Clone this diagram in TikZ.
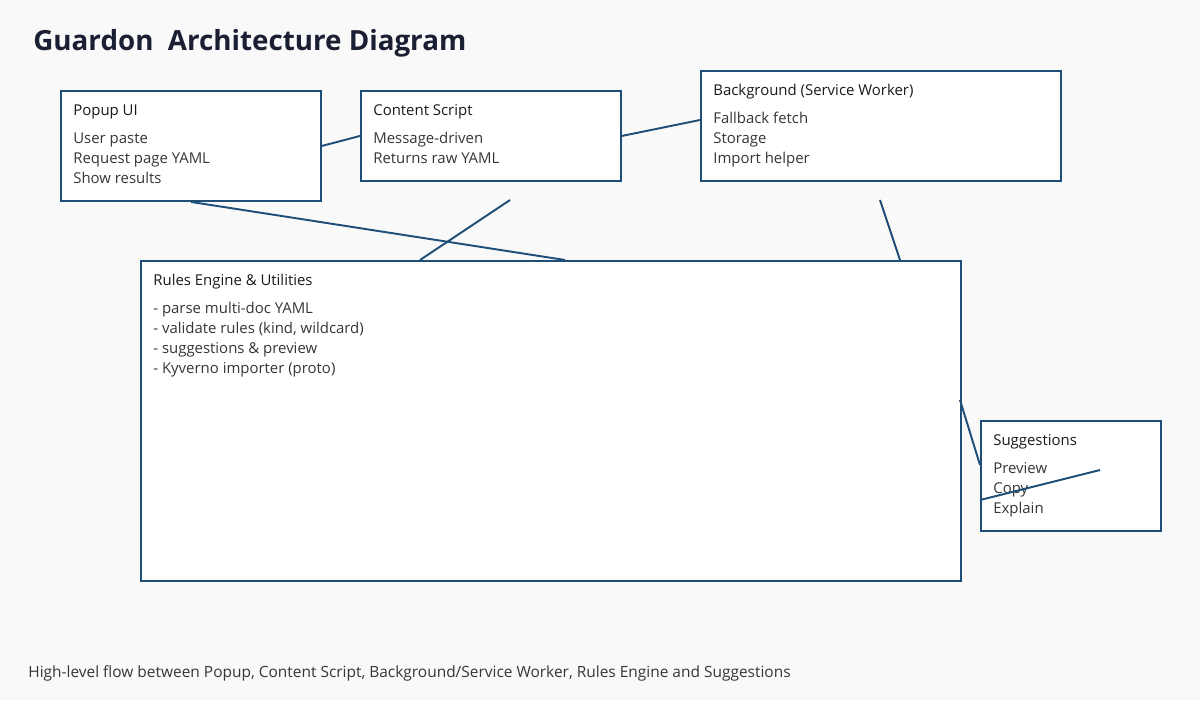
\documentclass[tikz,border=0pt]{standalone}
\usepackage{fontspec}
\setmainfont{Open Sans}
\usetikzlibrary{calc}

\definecolor{edgeblue}{HTML}{1F4E79}
\definecolor{headtxt}{HTML}{1A1A1A}
\definecolor{itemtxt}{HTML}{363636}
\definecolor{titletxt}{HTML}{1B1F33}
\definecolor{pagebg}{HTML}{F9F9F9}

\begin{document}
\begin{tikzpicture}[x=0.02cm,y=-0.02cm,
  box/.style={draw=edgeblue,fill=white,line width=1.1pt,anchor=north west,inner sep=0pt},
  head/.style={anchor=base west,inner sep=0pt,text=headtxt,font=\fontsize{8.5}{10}\selectfont},
  item/.style={anchor=base west,inner sep=0pt,text=itemtxt,font=\fontsize{8.5}{10}\selectfont},
  title/.style={anchor=base west,inner sep=0pt,text=titletxt,font=\fontsize{15.8}{18}\selectfont\bfseries},
  link/.style={draw=edgeblue,line width=1.1pt}]
\fill[pagebg] (0,0) rectangle (1200,700);
\node[title] (title) at (33,50) {Guardon\ \ Architecture Diagram};

% boxes
\node[box,minimum width=5.2cm,minimum height=2.2cm] (popup) at (60,90) {};
\node[box,minimum width=5.2cm,minimum height=1.8cm] (content) at (360,90) {};
\node[box,minimum width=7.2cm,minimum height=2.2cm] (bg) at (700,70) {};
\node[box,minimum width=16.4cm,minimum height=6.4cm] (rules) at (140,260) {};
\node[box,minimum width=3.6cm,minimum height=2.2cm] (sugg) at (980,420) {};

% headers
\node[head] (popuphead) at ($(popup.north west)+(13,25)$) {Popup UI};
\node[head] (contenthead) at ($(content.north west)+(13,25)$) {Content Script};
\node[head] (bghead) at ($(bg.north west)+(13,25)$) {Background (Service Worker)};
\node[head] (ruleshead) at ($(rules.north west)+(13,25)$) {Rules Engine \& Utilities};
\node[head] (sugghead) at ($(sugg.north west)+(13,25)$) {Suggestions};

% items
\foreach \t [count=\i] in {User paste,Request page YAML,Show results}
  \node[item] (popup-\i) at ($(popup.north west)+(13,33+20*\i)$) {\t};
\foreach \t [count=\i] in {Message-driven,Returns raw YAML}
  \node[item] (content-\i) at ($(content.north west)+(13,33+20*\i)$) {\t};
\foreach \t [count=\i] in {Fallback fetch,Storage,Import helper}
  \node[item] (bg-\i) at ($(bg.north west)+(13,33+20*\i)$) {\t};
\foreach \t [count=\i] in {- parse multi-doc YAML,{- validate rules (kind, wildcard)},- suggestions \& preview,- Kyverno importer (proto)}
  \node[item] (rules-\i) at ($(rules.north west)+(13,33+20*\i)$) {\t};
\foreach \t [count=\i] in {Preview,Copy,Explain}
  \node[item] (sugg-\i) at ($(sugg.north west)+(13,33+20*\i)$) {\t};

\node[item,font=\fontsize{8.8}{10}\selectfont] (caption) at (28,677) {High-level flow between Popup, Content Script, Background/Service Worker, Rules Engine and Suggestions};

% connectors
\coordinate (bgin) at (700,120);
\coordinate (rulestopa) at (565,260);
\coordinate (csdrop) at (510,200);
\coordinate (rulestopb) at (420,260);
\coordinate (bgdrop) at (880,200);
\coordinate (rulestopc) at (900,260);
\coordinate (rulesside) at (960,400);
\coordinate (suggin) at (980,465);
\coordinate (suggcrossa) at (980,500);
\coordinate (suggcrossb) at (1100,470);
\draw[link] (popup.east) -- (content.west);
\draw[link] (content.east) -- (bgin);
\draw[link] (popup.south) -- (rulestopa);
\draw[link] (csdrop) -- (rulestopb);
\draw[link] (bgdrop) -- (rulestopc);
\draw[link] (rulesside) -- (suggin);
\draw[link] (suggcrossa) -- (suggcrossb);
\end{tikzpicture}
\end{document}
